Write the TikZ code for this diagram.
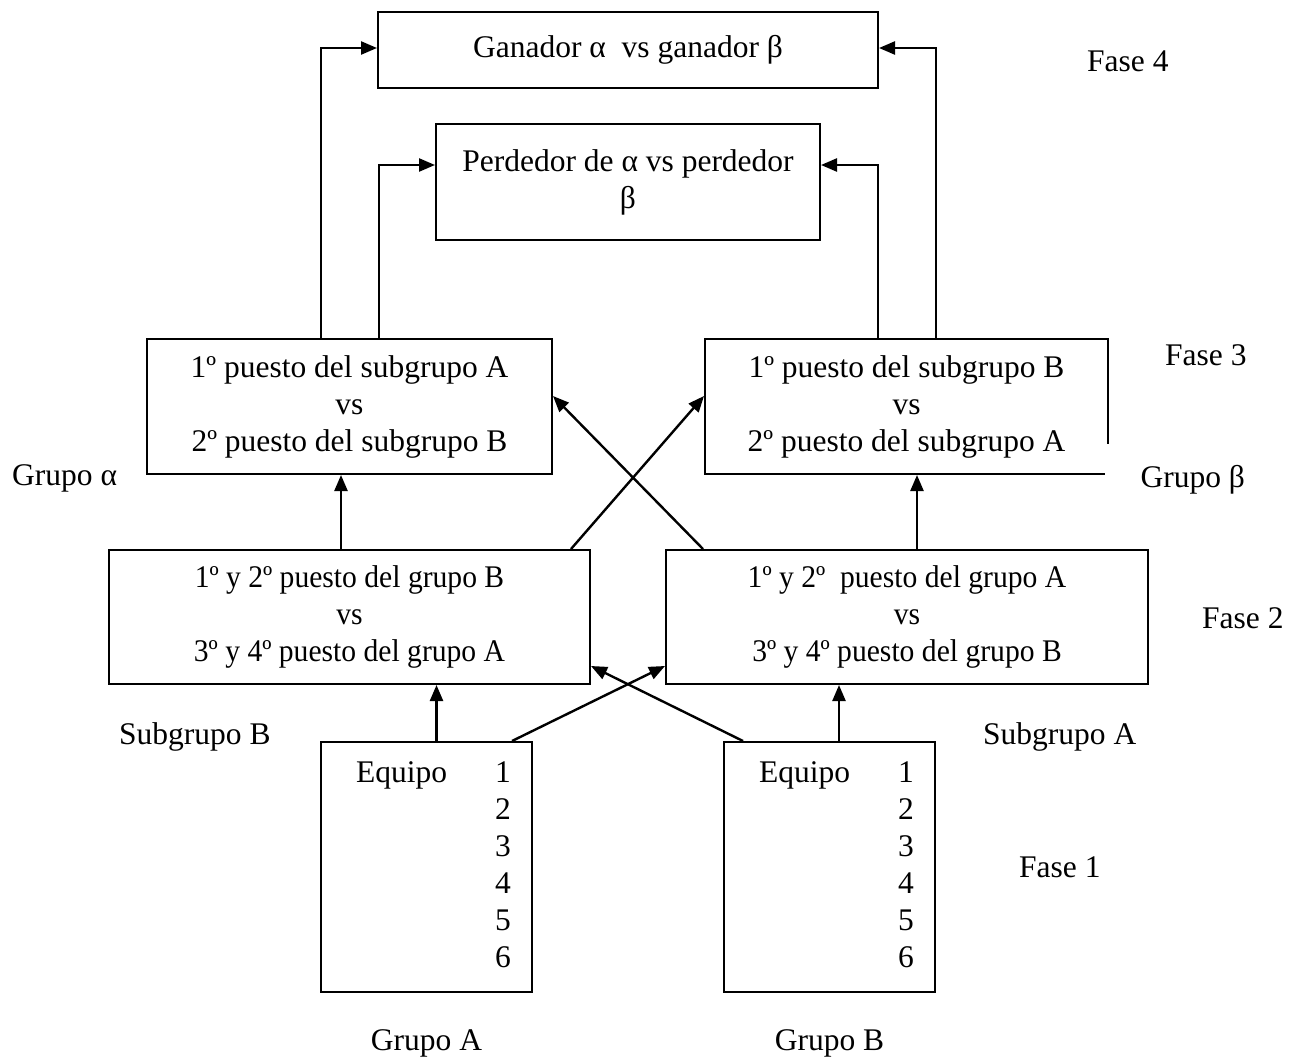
\documentclass[tikz,border=0pt]{standalone}
\usepackage{fontspec}
\usepackage{graphicx}
\setmainfont{Liberation Serif}
\usetikzlibrary{arrows.meta}
\newcommand\cnd[1]{\scalebox{0.94}[1]{#1}}
\begin{document}
\begin{tikzpicture}[x=1pt,y=-1pt,
  box/.style={draw,line width=2pt,align=center,inner sep=0pt,font=\fontsize{31.5}{37}\selectfont},
  lbl/.style={inner sep=0pt,font=\fontsize{31.5}{37}\selectfont},
  arr/.style={line width=2.4pt,-{Triangle[length=16pt,width=13pt]}}]
\useasboundingbox (0,0) rectangle (1303,1060);
% boxes
\node[box,minimum width=500pt,minimum height=76pt] (top) at (628,50) {Ganador α\ \ vs ganador β};
\node[box,minimum width=384pt,minimum height=116pt] (perd) at (628,182) {Perdedor de α vs perdedor\\β};
\node[box,minimum width=405pt,minimum height=135pt] (f3l) at (349.5,406.5) {1º puesto del subgrupo A\\vs\\2º puesto del subgrupo B};
\node[box,minimum width=403pt,minimum height=135pt] (f3r) at (906.5,406.5) {1º puesto del subgrupo B\\vs\\2º puesto del subgrupo A};
\node[box,minimum width=481pt,minimum height=134pt] (f2l) at (349.5,617) {\cnd{1º y 2º puesto del grupo B}\\\cnd{vs}\\\cnd{3º y 4º puesto del grupo A}};
\node[box,minimum width=482pt,minimum height=134pt] (f2r) at (907,617) {\cnd{1º y 2º\ \ puesto del grupo A}\\\cnd{vs}\\\cnd{3º y 4º puesto del grupo B}};
\node[box,minimum width=211pt,minimum height=250pt] (f1l) at (426.5,867) {};
\node[box,minimum width=211pt,minimum height=250pt] (f1r) at (829.5,867) {};
% team lists
\node[lbl,anchor=base west] (eqA) at (356,782) {\begin{tabular}[t]{@{}l@{\hspace{48pt}}r@{}}Equipo&1\\&2\\&3\\&4\\&5\\&6\end{tabular}};
\node[lbl,anchor=base west] (eqB) at (759,782) {\begin{tabular}[t]{@{}l@{\hspace{48pt}}r@{}}Equipo&1\\&2\\&3\\&4\\&5\\&6\end{tabular}};
% labels
\node[lbl,anchor=base west] (fase4) at (1087,71) {Fase 4};
\node[lbl,anchor=base west] (fase3) at (1165,365) {Fase 3};
\node[lbl,anchor=base west] (gal) at (12,485) {Grupo α};
\node[lbl,fill=white,anchor=north west,minimum width=175pt,minimum height=71pt] (gbe) at (1105,444) {Grupo β};
\node[lbl,anchor=base west] (fase2) at (1202,628) {Fase 2};
\node[lbl,anchor=base west] (sgB) at (119,744) {Subgrupo B};
\node[lbl,anchor=base west] (sgA) at (983,744) {Subgrupo A};
\node[lbl,anchor=base west] (fase1) at (1019,877) {Fase 1};
\node[lbl,anchor=base] (grA) at (426.5,1050) {Grupo A};
\node[lbl,anchor=base] (grB) at (829.5,1050) {Grupo B};
% connectors
\draw[arr] ([xshift=10pt]f1l.north) -- ([xshift=10pt]f1l.north |- f2l.south);
\draw[arr] ([xshift=9.5pt]f1r.north) -- ([xshift=9.5pt]f1r.north |- f2r.south);
\draw[arr] ([xshift=85.5pt]f1l.north) -- ([yshift=-49pt]f2r.west);
\draw[arr] ([xshift=-86.5pt]f1r.north) -- ([yshift=-49pt]f2l.east);
\draw[arr] ([xshift=-8.5pt]f2l.north) -- ([xshift=-8.5pt]f2l.north |- f3l.south);
\draw[arr] ([xshift=10pt]f2r.north) -- ([xshift=10pt]f2r.north |- f3r.south);
\draw[arr] ([xshift=221.5pt]f2l.north) -- ([yshift=10.5pt]f3r.west);
\draw[arr] ([xshift=-204pt]f2r.north) -- ([yshift=10.5pt]f3l.east);
\draw[arr] ([xshift=-28.5pt]f3l.north) |- ([yshift=2pt]top.west);
\draw[arr] ([xshift=29.5pt]f3l.north) |- ([yshift=17pt]perd.west);
\draw[arr] ([xshift=-28.5pt]f3r.north) |- ([yshift=17pt]perd.east);
\draw[arr] ([xshift=29.5pt]f3r.north) |- ([yshift=2pt]top.east);
\end{tikzpicture}
\end{document}
